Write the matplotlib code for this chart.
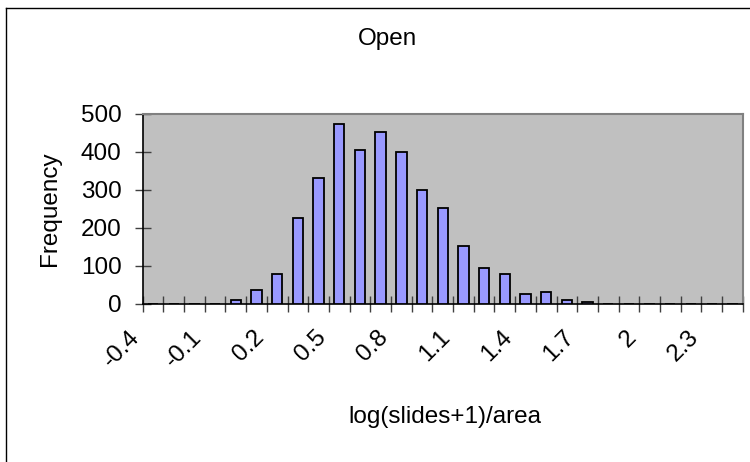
import matplotlib
matplotlib.use("Agg")
import matplotlib.pyplot as plt
from matplotlib.lines import Line2D
from matplotlib.transforms import ScaledTranslation
import numpy as np

plt.rcParams['font.family'] = ['Liberation Sans', 'DejaVu Sans']

categories = ['-0.4', '-0.3', '-0.2', '-0.1', '0', '0.1', '0.2', '0.3', '0.4', '0.5',
              '0.6', '0.7', '0.8', '0.9', '1', '1.1', '1.2', '1.3', '1.4', '1.5',
              '1.6', '1.7', '1.8', '1.9', '2', '2.1', '2.2', '2.3', '2.4']
frequency = [0, 0, 0, 0, 10, 37, 80, 227, 331, 474,
             405, 452, 400, 300, 253, 153, 95, 80, 27, 32,
             10, 4, 0, 0, 0, 0, 0, 0, 0]
tick_labels = ['-0.4', '-0.1', '0.2', '0.5', '0.8', '1.1', '1.4', '1.7', '2', '2.3']
yticks = [0, 100, 200, 300, 400, 500]

FS = 17.5

fig = plt.figure(figsize=(7.5, 4.62), dpi=100)
ax = fig.add_axes([0.1903, 0.342, 0.800, 0.4119])
ax.set_facecolor('#C0C0C0')

x = np.arange(len(categories))
ax.bar(x, frequency, width=0.5, color='#9999FF', edgecolor='black', linewidth=1.3, zorder=3)

ax.set_xlim(-0.5, len(categories) - 0.5)
ax.set_ylim(0, 500)

# x ticks at category boundaries (crossing), labels every 3rd category
ax.set_xticks(np.arange(-0.5, len(categories) + 0.5, 1.0))
ax.set_xticklabels([])
lab_pos = [categories.index(t) for t in tick_labels]
ax.set_xticks(lab_pos, minor=True)
ax.set_xticklabels(tick_labels, minor=True, rotation=45, ha='right', va='center',
                   rotation_mode='anchor', fontsize=FS)
ax.tick_params(axis='x', which='major', direction='inout', length=11.5, width=1, color='#404040')
ax.tick_params(axis='x', which='minor', length=0, pad=0)
off = ScaledTranslation(-0.165, -0.30, fig.dpi_scale_trans)
for lab in ax.get_xticklabels(minor=True):
    lab.set_transform(lab.get_transform() + off)

ax.set_yticks(yticks)
ax.set_yticklabels([str(v) for v in yticks], fontsize=FS)
ax.tick_params(axis='y', direction='inout', length=11.5, width=1, color='#404040', pad=9.4)

for s in ['left', 'bottom']:
    ax.spines[s].set_color('black')
    ax.spines[s].set_linewidth(1.2)
for s in ['top', 'right']:
    ax.spines[s].set_color('#808080')
    ax.spines[s].set_linewidth(1.5)

fig.text(0.5167, 1 - 45 / 462, 'Open', ha='center', va='baseline', fontsize=FS)
fig.text(0.0747, 0.548, 'Frequency', ha='center', va='baseline', rotation=90,
         rotation_mode='anchor', fontsize=FS)
fig.text(0.5927, 1 - 423 / 462, 'log(slides+1)/area', ha='center', va='baseline', fontsize=FS)

# chart area border
fig.add_artist(Line2D([0.008, 0.008], [0.0, 0.983], transform=fig.transFigure, color='black', lw=1))
fig.add_artist(Line2D([0.008, 1.0], [0.983, 0.983], transform=fig.transFigure, color='black', lw=1))

fig.savefig('out.png', dpi=100, facecolor='white')
